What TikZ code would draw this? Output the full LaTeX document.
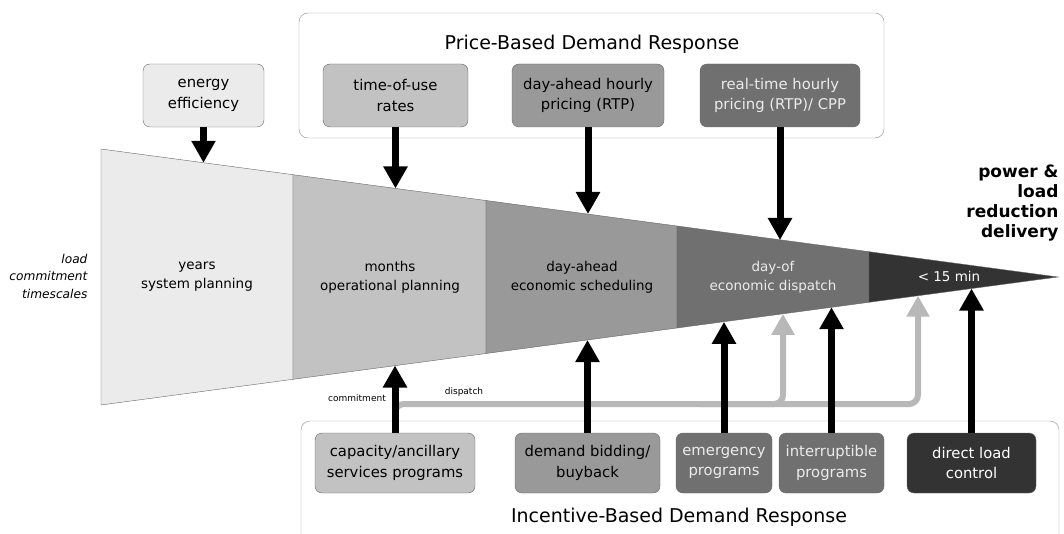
\documentclass[tikz,border=0pt]{standalone}
\usepackage{fontspec}
\setmainfont{DejaVu Sans}
\usetikzlibrary{arrows.meta, positioning}
\definecolor{toneA}{HTML}{EBEBEB}
\definecolor{toneB}{HTML}{C2C2C2}
\definecolor{toneC}{HTML}{999999}
\definecolor{toneD}{HTML}{707070}
\definecolor{toneE}{HTML}{333333}
\definecolor{linegray}{HTML}{B8B8B8}
\tikzstyle{arrow} = [line width=7pt, -{Triangle[width=23pt,length=22pt]}]
\tikzstyle{grayarrow} = [line width=6pt, color=linegray, rounded corners=9pt, -{Triangle[width=22pt,length=21pt]}]
\tikzstyle{prog} = [rectangle, rounded corners=7pt, draw=black!60, align=center, minimum height=63pt, inner sep=1pt, font=\fontsize{14.8}{20.5}\selectfont]
\tikzstyle{stage} = [align=center, font=\fontsize{13.5}{19}\selectfont]

\begin{document}
\begin{tikzpicture}[x=1pt, y=-1pt]
\useasboundingbox (0,0) rectangle (1064,534);

% wedge
\draw[black!60, fill=toneA] (101,149) -- (293,174.7) -- (293,379.3) -- (101,405) -- cycle;
\draw[black!60, fill=toneB] (293,174.7) -- (486,200.5) -- (486,353.5) -- (293,379.3) -- cycle;
\draw[black!60, fill=toneC] (486,200.5) -- (677,226) -- (677,328) -- (486,353.5) -- cycle;
\draw[black!60, fill=toneD] (677,226) -- (869,251.7) -- (869,302.3) -- (677,328) -- cycle;
\draw[black!60, fill=toneE] (869,251.7) -- (1058,277) -- (869,302.3) -- cycle;

\node (years) [stage] at (197,277) {years\\system planning};
\node (months) [stage] at (390,277) {months\\operational planning};
\node (dayahead) [stage] at (582,277) {day-ahead\\economic scheduling};
\node (dayof) [stage, text=black!8] at (773,277) {day-of\\economic dispatch};
\node (quick) [stage, text=white] at (949,276) {< 15 min};

\node (timescales) [align=right, anchor=east, font=\fontsize{12.2}{17.5}\itshape\selectfont] at (91,276) {load\\commitment\\timescales};
\node (delivery) [align=right, anchor=east, font=\fontsize{17}{20}\bfseries\selectfont] at (1062,203) {power \&\\load\\reduction\\delivery};

% price-based
\draw[black!45, rounded corners=9pt] (299,13) rectangle (884,138);
\node (pricetitle) [font=\fontsize{19}{22}\selectfont] at (592,44) {Price-Based Demand Response};
\node (eff) [prog, fill=toneA, minimum width=121pt] at (203.5,95.5) {energy\\efficiency};
\node (tou) [prog, fill=toneB, minimum width=145pt] at (395.5,95.5) {time-of-use\\rates};
\node (dahp) [prog, fill=toneC, minimum width=152pt] at (588,95.5) {day-ahead hourly\\pricing (RTP)};
\node (rtp) [prog, fill=toneD, text=black!8, minimum width=160pt] at (780,95.5) {real-time hourly\\pricing (RTP)/ CPP};

% incentive-based
\draw[black!45, rounded corners=9pt] (301,545) -- (301,421) -- (1059,421) -- (1059,545);
\node (incentitle) [font=\fontsize{19}{22}\selectfont] at (679,517) {Incentive-Based Demand Response};
\node (cap) [prog, fill=toneB, minimum width=160pt, minimum height=60pt] at (395,463) {capacity/ancillary\\services programs};
\node (bid) [prog, fill=toneC, minimum width=145pt, minimum height=60pt] at (587.5,463) {demand bidding/\\buyback};
\node (emer) [prog, fill=toneD, text=black!8, minimum width=96pt, minimum height=60pt] at (724,463) {emergency\\programs};
\node (intr) [prog, fill=toneD, text=black!8, minimum width=105pt, minimum height=60pt] at (831.5,463) {interruptible\\programs};
\node (dlc) [prog, fill=toneE, text=white, minimum width=129pt, minimum height=60pt] at (971.5,463) {direct load\\control};

% where the arrows meet the wedge
\coordinate (hitEff) at (203.5,162.8);
\coordinate (hitTou) at (395.5,188.5);
\coordinate (hitDahp) at (588,214);
\coordinate (hitRtp) at (780,240);
\coordinate (hitCap) at (395,365.5);
\coordinate (hitBid) at (587.5,340);
\coordinate (hitEmer) at (724,321.8);
\coordinate (hitIntr) at (831.5,307.2);
\coordinate (hitDlc) at (971.5,288.5);
\coordinate (hitGa) at (783,313.8);
\coordinate (hitGb) at (918,295.7);
\coordinate (split) at (395,426);

% dispatch paths
\draw[grayarrow] (split) -- (395,404) -- (918,404) -- (hitGb);
\draw[grayarrow] (700,404) -- (783,404) -- (hitGa);
\node (commit) [font=\fontsize{9}{10}\selectfont] at (357,398) {commitment};
\node (dispatch) [font=\fontsize{9}{10}\selectfont] at (464,392) {dispatch};

\draw[arrow] (eff.south) -- (hitEff);
\draw[arrow] (tou.south) -- (hitTou);
\draw[arrow] (dahp.south) -- (hitDahp);
\draw[arrow] (rtp.south) -- (hitRtp);
\draw[arrow] (cap.north) -- (hitCap);
\draw[arrow] (bid.north) -- (hitBid);
\draw[arrow] (emer.north) -- (hitEmer);
\draw[arrow] (intr.north) -- (hitIntr);
\draw[arrow] (dlc.north) -- (hitDlc);
\end{tikzpicture}
\end{document}
